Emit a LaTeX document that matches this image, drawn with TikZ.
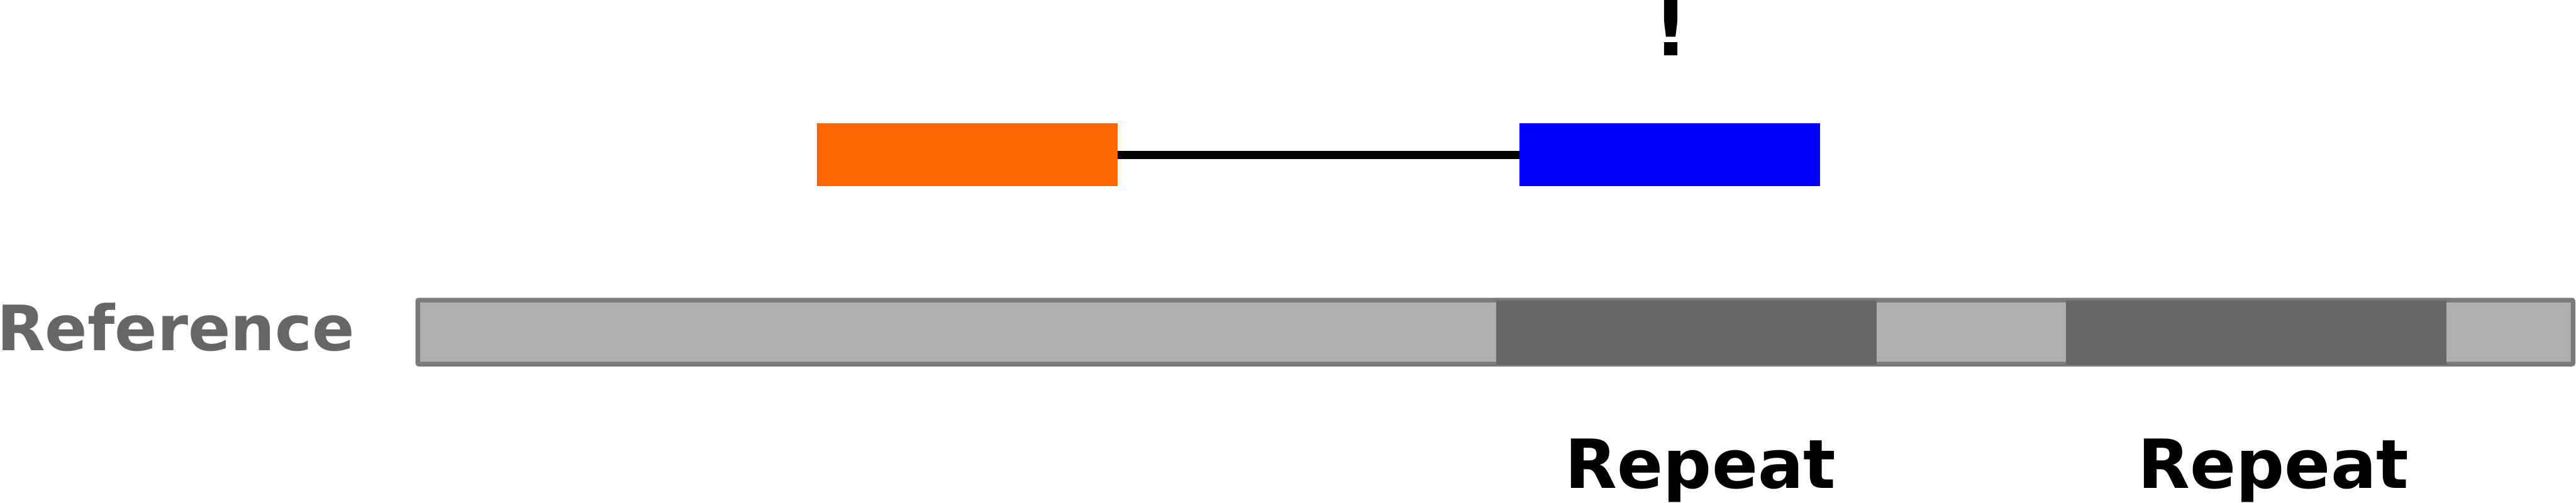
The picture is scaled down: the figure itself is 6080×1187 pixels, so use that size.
\documentclass[tikz,border=0pt]{standalone}
\usepackage{fontspec}
\setmainfont{DejaVu Sans}
\definecolor{lightbar}{HTML}{AFAFAF}
\definecolor{barborder}{HTML}{7A7A7A}
\definecolor{repeatgray}{HTML}{666666}
\definecolor{readorange}{HTML}{FF6600}
\definecolor{readblue}{HTML}{0000FF}
\tikzset{
  readbox/.style={rectangle, inner sep=0pt, minimum width=7.09cm, minimum height=1.49cm},
  repeatbox/.style={rectangle, inner sep=0pt, fill=repeatgray, minimum width=8.97cm, minimum height=1.515cm},
  lbl/.style={inner sep=0pt, font=\bfseries\fontsize{45.5}{50}\selectfont},
}
\begin{document}
\begin{tikzpicture}[x=0.01cm,y=-0.01cm]
\useasboundingbox (0,0) rectangle (6080,1187);
% reference bar
\node[rectangle, inner sep=0pt, fill=lightbar, draw=barborder, line width=0.11cm, rounded corners=0.03cm,
      minimum width=50.84cm, minimum height=1.51cm] (bar) at (3529.5,784) {};
\node[repeatbox] (rep1) at (3980.5,785.25) {};
\node[repeatbox] (rep2) at (5325.5,785.25) {};
\node[inner sep=0pt, anchor=base east, text=repeatgray, font=\bfseries\fontsize{42}{50}\selectfont] (reflabel) at (838,827) {Reference};
\node[lbl, anchor=base] (replabel1) at (4014,1152) {Repeat};
\node[lbl, anchor=base] (replabel2) at (5366,1152) {Repeat};
% read pair
\node[readbox, fill=readorange] (left) at (2283,365.5) {};
\node[readbox, fill=readblue] (right) at (3941,365.5) {};
\draw[line width=0.19cm] (left.east) -- (right.west);
\node[inner sep=0pt, anchor=base, font=\bfseries\fontsize{51}{55}\selectfont] (warn) at (3944,131) {!};
\end{tikzpicture}
\end{document}
